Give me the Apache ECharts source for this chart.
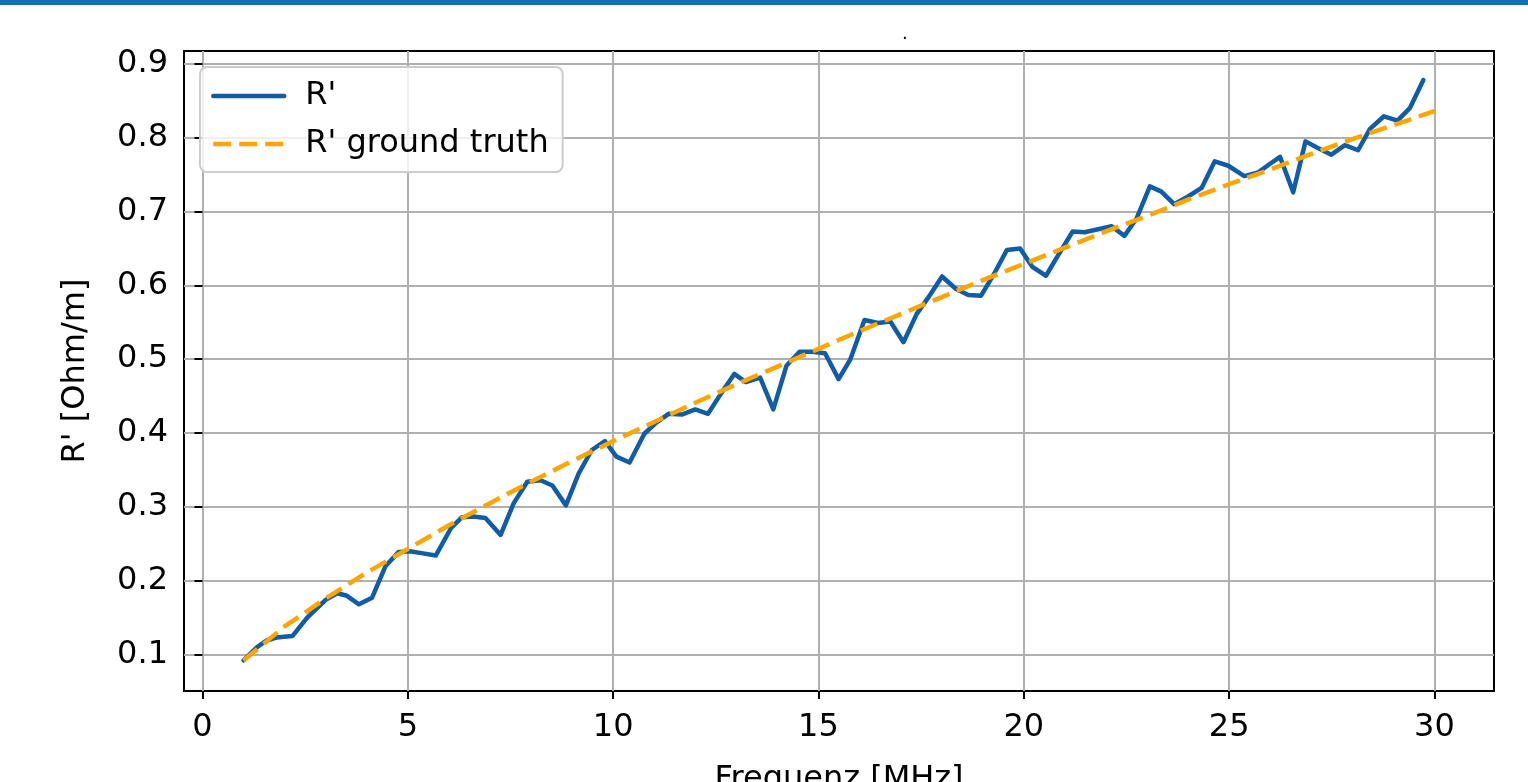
<!DOCTYPE html>
<html>
<head>
<meta charset="utf-8">
<script src="https://cdn.jsdelivr.net/npm/echarts@6/dist/echarts.min.js"></script>
<style>
html,body{margin:0;padding:0;background:#fff;}
#chart{width:1528px;height:782px;}
</style>
</head>
<body>
<div id="chart"></div>
<script>
// Measured R' (blue) curve
const freqMHz = [1.00,1.33,1.56,1.80,2.19,2.55,3.00,3.28,3.50,3.81,4.13,4.46,4.78,5.05,5.37,5.68,6.05,6.32,6.60,6.89,7.26,7.58,7.91,8.23,8.52,8.85,9.16,9.48,9.80,10.08,10.40,10.76,11.05,11.35,11.67,12.00,12.31,12.61,12.95,13.23,13.58,13.90,14.22,14.54,14.84,15.16,15.49,15.77,16.12,16.45,16.75,17.07,17.39,17.68,18.01,18.35,18.65,18.96,19.29,19.59,19.91,20.21,20.54,20.87,21.19,21.48,21.81,22.14,22.45,22.75,23.07,23.35,23.66,23.99,24.33,24.65,24.98,25.37,25.71,25.98,26.24,26.56,26.86,27.16,27.49,27.82,28.14,28.43,28.77,29.10,29.40,29.73];
const rPrime = [0.092,0.110,0.119,0.123,0.125,0.150,0.174,0.183,0.180,0.168,0.177,0.220,0.239,0.240,0.237,0.234,0.271,0.286,0.287,0.285,0.262,0.305,0.334,0.336,0.329,0.302,0.345,0.377,0.389,0.368,0.360,0.399,0.414,0.426,0.425,0.432,0.426,0.452,0.480,0.469,0.475,0.432,0.491,0.510,0.510,0.508,0.473,0.499,0.553,0.549,0.551,0.523,0.561,0.584,0.612,0.595,0.587,0.586,0.617,0.648,0.650,0.625,0.613,0.644,0.673,0.672,0.676,0.680,0.667,0.691,0.734,0.727,0.710,0.720,0.732,0.768,0.762,0.748,0.753,0.764,0.774,0.726,0.795,0.786,0.777,0.790,0.783,0.812,0.829,0.823,0.840,0.878];

// Ground truth (orange dashed)
const gtFreqMHz = [1,2,3,4,5,6,7,8,9,10,11,12,13,14,15,16,17,18,19,20,21,22,23,24,25,26,27,28,29,30];
const gtValues = [0.092,0.138,0.176,0.211,0.243,0.275,0.305,0.334,0.362,0.389,0.415,0.441,0.466,0.490,0.514,0.538,0.561,0.584,0.607,0.629,0.651,0.673,0.694,0.716,0.737,0.757,0.778,0.798,0.817,0.836];

const xTicks = [0,5,10,15,20,25,30];
const yTicks = [0.1,0.2,0.3,0.4,0.5,0.6,0.7,0.8,0.9];

const seriesNames = ["R'", "R' ground truth"];

const FONT = 'DejaVu Sans';
const chart = echarts.init(document.getElementById('chart'), null, {renderer: 'canvas'});

const option = {
  animation: false,
  backgroundColor: '#ffffff',
  graphic: [
    {type: 'rect', left: 0, top: 0, shape: {width: 1528, height: 5}, style: {fill: '#1b6bb4'}, silent: true},
    {type: 'text', left: 902, top: 25, style: {text: '.', font: '18px ' + FONT, fill: '#000'}, silent: true}
  ],
  grid: {
    left: 184, top: 51, width: 1310, height: 640,
    show: true, borderColor: '#000', borderWidth: 2, backgroundColor: 'transparent',
    containLabel: false,
    outerBoundsMode: 'none'
  },
  legend: {
    left: 200, top: 67,
    orient: 'vertical',
    data: seriesNames,
    itemWidth: 71, itemHeight: 20, itemGap: 12,
    padding: [11, 14, 10, 11],
    backgroundColor: 'rgba(255,255,255,0.8)',
    borderColor: '#cccccc', borderWidth: 2, borderRadius: 7,
    lineStyle: {width: 4.5},
    itemStyle: {opacity: 0, color: 'transparent', borderWidth: 0},
    textStyle: {fontFamily: FONT, fontSize: 32, color: '#000', lineHeight: 36, padding: [0, 0, 0, 16]},
    selectedMode: false
  },
  xAxis: {
    type: 'value', min: -0.45, max: 31.45,
    name: 'Frequenz [MHz]', nameLocation: 'middle', nameGap: 73,
    nameTextStyle: {fontFamily: FONT, fontSize: 32, color: '#000'},
    axisLine: {show: false},
    axisTick: {show: true, length: 8, inside: false, customValues: xTicks, lineStyle: {color: '#000', width: 2}},
    axisLabel: {customValues: xTicks, margin: 21, fontFamily: FONT, fontSize: 32, color: '#000', formatter: v => String(v)},
    splitLine: {show: true, lineStyle: {color: '#b0b0b0', width: 2}}
  },
  yAxis: {
    type: 'value', min: 0.0506, max: 0.9174,
    name: "R' [Ohm/m]", nameLocation: 'middle', nameGap: 92, nameRotate: 90,
    nameTextStyle: {fontFamily: FONT, fontSize: 32, color: '#000'},
    axisLine: {show: false},
    axisTick: {show: true, length: 8, inside: false, customValues: yTicks, lineStyle: {color: '#000', width: 2}},
    axisLabel: {customValues: yTicks, margin: 16, fontFamily: FONT, fontSize: 32, color: '#000', formatter: v => v.toFixed(1)},
    splitLine: {show: true, lineStyle: {color: '#b0b0b0', width: 2}}
  },
  series: [
    {
      name: seriesNames[0], type: 'line', symbol: 'none', showSymbol: false,
      data: freqMHz.map((f, i) => [f, rPrime[i]]),
      lineStyle: {color: '#105ca6', width: 4.5, join: 'round', cap: 'round'},
      itemStyle: {color: '#105ca6'},
      z: 3
    },
    {
      name: seriesNames[1], type: 'line', symbol: 'none', showSymbol: false,
      data: gtFreqMHz.map((f, i) => [f, gtValues[i]]),
      lineStyle: {color: '#ffa500', width: 4.5, type: [18, 8]},
      itemStyle: {color: '#ffa500'},
      z: 4
    }
  ]
};
chart.setOption(option);
</script>
</body>
</html>
